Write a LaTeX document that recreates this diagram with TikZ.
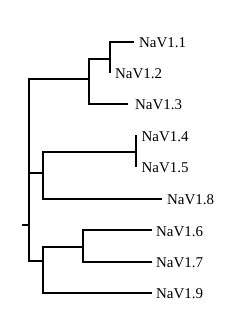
\documentclass[tikz,border=0pt]{standalone}
\usepackage{fontspec}
\setmainfont{Liberation Serif}
\begin{document}
\begin{tikzpicture}[x=1bp,y=-1bp,
  edge/.style={line width=1.8bp,black},
  lab/.style={anchor=west,inner sep=0pt,font=\fontsize{15}{17}\selectfont}]
\useasboundingbox (0,0) rectangle (250,324);
% internal nodes
\coordinate (R) at (29,225);
\coordinate (Rt) at (22,225);
\coordinate (A) at (89,79);
\coordinate (B) at (110,59);
\coordinate (C) at (43,173);
\coordinate (D) at (136,152);
\coordinate (E) at (43,261);
\coordinate (F) at (83,247);
% leaf tips
\coordinate (t11) at (134,42);
\coordinate (t12) at (110,73);
\coordinate (t13) at (128,104);
\coordinate (t14) at (136,135);
\coordinate (t15) at (136,167);
\coordinate (t18) at (162,199);
\coordinate (t16) at (152,230);
\coordinate (t17) at (152,262);
\coordinate (t19) at (152,293);
% labels
\node[lab] (n11) at (139,42.5) {NaV1.1};
\node[lab] (n12) at (115,74) {NaV1.2};
\node[lab] (n13) at (135,104.5) {NaV1.3};
\node[lab] (n14) at (141.5,137) {NaV1.4};
\node[lab] (n15) at (141.5,168) {NaV1.5};
\node[lab] (n18) at (167,199.5) {NaV1.8};
\node[lab] (n16) at (156,231.5) {NaV1.6};
\node[lab] (n17) at (156,262.5) {NaV1.7};
\node[lab] (n19) at (156,293.5) {NaV1.9};
% edges
\draw[edge] (Rt) -- (R);
\draw[edge] (R) |- (A);
\draw[edge] (R) |- (C);
\draw[edge] (R) |- (E);
\draw[edge] (A) |- (B);
\draw[edge] (A) |- (t13);
\draw[edge] (B) |- (t11);
\draw[edge] (B) |- (t12);
\draw[edge] (C) |- (D);
\draw[edge] (C) |- (t18);
\draw[edge] (D) |- (t14);
\draw[edge] (D) |- (t15);
\draw[edge] (E) |- (F);
\draw[edge] (E) |- (t19);
\draw[edge] (F) |- (t16);
\draw[edge] (F) |- (t17);
\end{tikzpicture}
\end{document}
